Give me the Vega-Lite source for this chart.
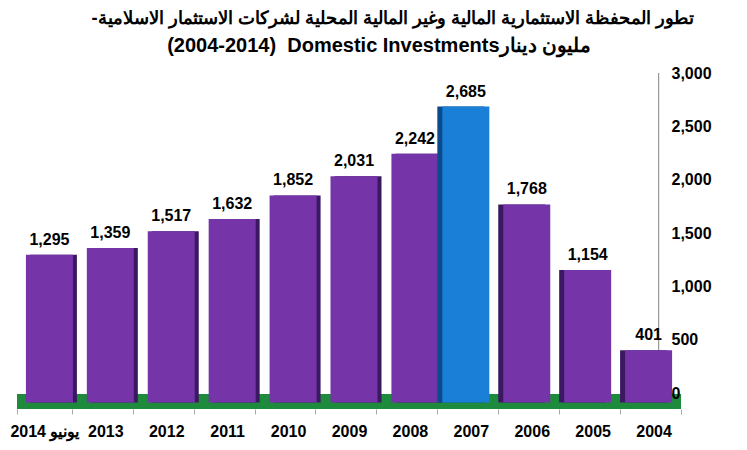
{
  "$schema": "https://vega.github.io/schema/vega-lite/v6.json",
  "autosize": "none",
  "width": 664,
  "height": 336,
  "padding": {"left": 17, "top": 73, "right": 66, "bottom": 41},
  "background": "white",
  "title": {
    "text": "-تطور المحفظة الاستثمارية المالية وغير المالية المحلية لشركات الاستثمار الاسلامية",
    "subtitle": "(2004-2014)\u00a0\u00a0Domestic Investmentsمليون دينار\u00a0\u00a0\u00a0\u00a0\u00a0\u2060",
    "anchor": "middle",
    "dx": 44,
    "offset": 8,
    "font": "Liberation Sans",
    "fontSize": 18.3,
    "fontWeight": "bold",
    "color": "black",
    "subtitleFont": "Liberation Sans",
    "subtitleFontSize": 20,
    "subtitleFontWeight": "bold",
    "subtitleColor": "black",
    "subtitlePadding": 8
  },
  "data": {
    "values": [
      {"year": "2014 يونيو", "value": 1295},
      {"year": "2013", "value": 1359},
      {"year": "2012", "value": 1517},
      {"year": "2011", "value": 1632},
      {"year": "2010", "value": 1852},
      {"year": "2009", "value": 2031},
      {"year": "2008", "value": 2242},
      {"year": "2007", "value": 2685},
      {"year": "2006", "value": 1768},
      {"year": "2005", "value": 1154},
      {"year": "2004", "value": 401}
    ]
  },
  "config": {
    "view": {"stroke": null},
    "font": "Liberation Sans"
  },
  "encoding": {
    "x": {
      "field": "year",
      "type": "nominal",
      "sort": null,
      "scale": {
        "domain": ["2014 يونيو", "2013", "2012", "2011", "2010", "2009", "2008", "2007", "2006", "2005", "2004"],
        "paddingInner": 0.1, "paddingOuter": 0
      },
      "axis": {
        "title": null,
        "labelAngle": 0,
        "labelFont": "Liberation Sans",
        "labelFontSize": 16,
        "labelFontWeight": "bold",
        "labelColor": "black",
        "domain": false,
        "ticks": true,
        "tickBand": "extent",
        "tickColor": "#aaaaaa",
        "tickSize": 5,
        "labelPadding": 9
      }
    },
    "y": {
      "field": "value",
      "type": "quantitative",
      "scale": {"domain": [-150, 3000], "nice": false, "zero": false}
    }
  },
  "layer": [
    {
      "mark": {"type": "rule", "color": "#999999", "strokeWidth": 1},
      "encoding": {
        "x": {"datum": "2004", "type": "nominal", "bandPosition": 0.59},
        "y": {"datum": 0, "type": "quantitative",
          "axis": {
            "orient": "right",
            "title": null,
            "zindex": 1,
            "values": [0, 500, 1000, 1500, 2000, 2500, 3000],
            "format": ",.0f",
            "offset": -25,
            "grid": false,
            "domain": false,
            "ticks": false,
            "labelPadding": 15,
            "labelFont": "Liberation Sans",
            "labelFontSize": 16,
            "labelFontWeight": "bold",
            "labelColor": "black"
          }},
        "y2": {"datum": 3000}
      }
    },
    {
      "mark": {"type": "rect", "color": "#1e8a3c"},
      "encoding": {
        "x": null,
        "y": {"datum": -15, "type": "quantitative"},
        "y2": {"datum": -150}
      }
    },
    {
      "transform": [{"filter": "indexof(['2007','2006','2005','2004'], datum.year) < 0"}],
      "layer": [
        {
          "mark": {"type": "bar", "width": 47, "xOffset": 9, "color": "#3b1862"},
          "encoding": {"y2": {"datum": -90}}
        },
        {
          "mark": {"type": "bar", "width": 47, "xOffset": 5, "color": "#7535a9"},
          "encoding": {"y2": {"datum": -90}}
        },
        {
          "mark": {"type": "text", "baseline": "alphabetic", "dy": -10, "xOffset": 5, "font": "Liberation Sans", "fontSize": 16, "fontWeight": "bold", "color": "black"},
          "encoding": {"text": {"field": "value", "type": "quantitative", "format": ","}}
        }
      ]
    },
    {
      "transform": [{"filter": "indexof(['2007','2006','2005','2004'], datum.year) >= 0"}],
      "layer": [
        {
          "mark": {"type": "bar", "width": 47, "xOffset": -10},
          "encoding": {
            "y2": {"datum": -90},
            "color": {"condition": {"test": "datum.year == '2007'", "value": "#0b4a8c"}, "value": "#3b1862"}
          }
        },
        {
          "mark": {"type": "bar", "width": 47, "xOffset": -5},
          "encoding": {
            "y2": {"datum": -90},
            "color": {"condition": {"test": "datum.year == '2007'", "value": "#1a7fd6"}, "value": "#7535a9"}
          }
        },
        {
          "mark": {"type": "text", "baseline": "alphabetic", "dy": -10, "xOffset": -5, "font": "Liberation Sans", "fontSize": 16, "fontWeight": "bold", "color": "black"},
          "encoding": {"text": {"field": "value", "type": "quantitative", "format": ","}}
        }
      ]
    }
  ]
}
